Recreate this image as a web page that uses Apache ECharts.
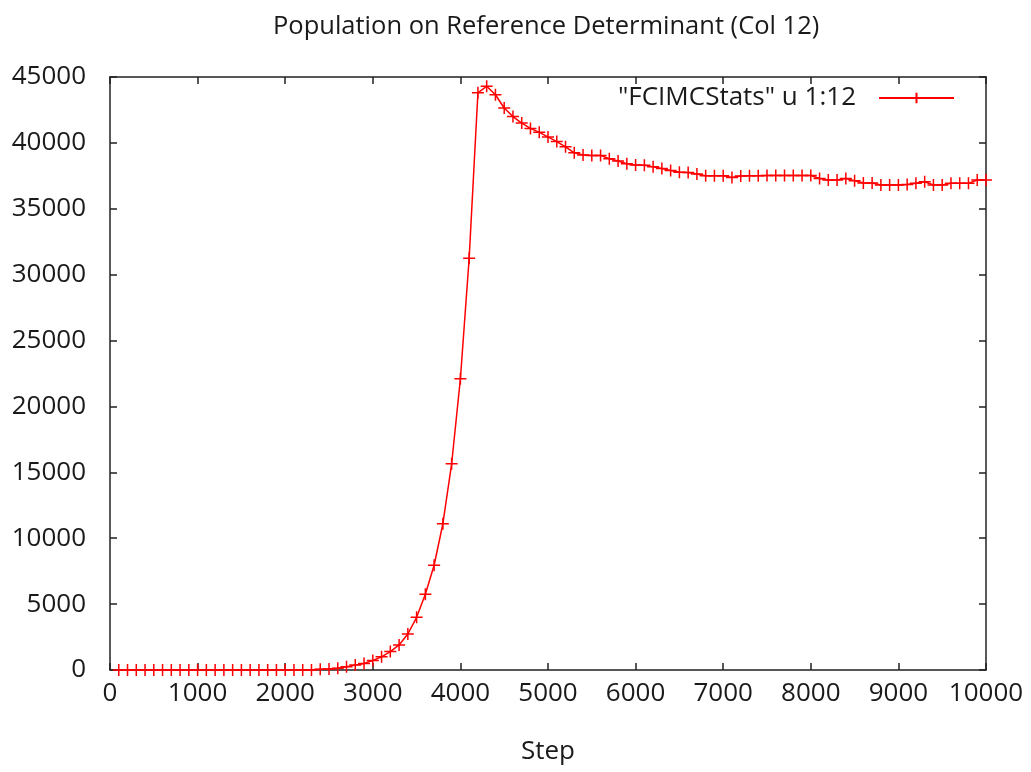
<!DOCTYPE html>
<html>
<head>
<meta charset="utf-8">
<script src="https://cdn.jsdelivr.net/npm/echarts@6/dist/echarts.min.js"></script>
<style>
  html, body {margin: 0; padding: 0; background: #fff;}
  #chart {width: 1031px; height: 772px;}
</style>
</head>
<body>
<div id="chart"></div>
<script>
// x: step numbers, y: population on the reference determinant
const steps = [
  100, 200, 300, 400, 500, 600, 700, 800, 900, 1000,
  1100, 1200, 1300, 1400, 1500, 1600, 1700, 1800, 1900, 2000,
  2100, 2200, 2300, 2400, 2500, 2600, 2700, 2800, 2900, 3000,
  3100, 3200, 3300, 3400, 3500, 3600, 3700, 3800, 3900, 4000,
  4100, 4200, 4300, 4400, 4500, 4600, 4700, 4800, 4900, 5000,
  5100, 5200, 5300, 5400, 5500, 5600, 5700, 5800, 5900, 6000,
  6100, 6200, 6300, 6400, 6500, 6600, 6700, 6800, 6900, 7000,
  7100, 7200, 7300, 7400, 7500, 7600, 7700, 7800, 7900, 8000,
  8100, 8200, 8300, 8400, 8500, 8600, 8700, 8800, 8900, 9000,
  9100, 9200, 9300, 9400, 9500, 9600, 9700, 9800, 9900, 10000
];
const population = [
  0, 0, 0, 0, 0, 0, 0, 0, 0, 0,
  0, 0, 0, 0, 0, 0, 0, 0, 0, 0,
  0, 0, 0, 60, 80, 130, 250, 370, 500, 720,
  1000, 1400, 1900, 2730, 4000, 5750, 7950, 11100, 15650, 22100,
  31250, 43800, 44300, 43650, 42650, 42000, 41500, 41100, 40800, 40450,
  40100, 39700, 39250, 39080, 39050, 39050, 38800, 38620, 38420, 38320,
  38300, 38180, 38050, 37900, 37780, 37760, 37640, 37500, 37500, 37500,
  37380, 37480, 37500, 37500, 37520, 37520, 37520, 37520, 37520, 37520,
  37300, 37180, 37180, 37300, 37130, 36950, 36950, 36800, 36800, 36800,
  36850, 36930, 37050, 36800, 36800, 36930, 36930, 36930, 37180, 37180
];
const seriesName = '"FCIMCStats" u 1:12';
const titleText = 'Population on Reference Determinant (Col 12)';
const xName = 'Step';

const FONT = '"Open Sans", "Noto Sans", sans-serif';
const INK = '#1a1a1a';
const SIZE = 26;
const PLUS = 'path://M0,5L10,5M5,0L5,10';

const chart = echarts.init(document.getElementById('chart'));

// gnuplot style: plain numbers, ticks pointing inward, box around the plot
const axisBase = {
  type: 'value',
  axisLine: {show: true, onZero: false, lineStyle: {color: '#222', width: 1.5}},
  axisTick: {show: true, inside: true, length: 7, lineStyle: {color: '#222', width: 1.5}},
  splitLine: {show: false},
  axisLabel: {color: INK, fontFamily: FONT, fontSize: SIZE, formatter: v => String(v)}
};

chart.setOption({
  animation: false,
  backgroundColor: '#fff',
  title: {
    text: titleText,
    left: 268,
    top: 9,
    textStyle: {color: INK, fontFamily: FONT, fontSize: 25.5, fontWeight: 'normal'}
  },
  legend: {
    data: [seriesName],
    right: 71,
    top: 80,
    align: 'right',
    itemWidth: 75,
    itemHeight: 13,
    textStyle: {color: INK, fontFamily: FONT, fontSize: SIZE, padding: [0, 18, 0, 0]}
  },
  grid: {left: 110, right: 45, top: 77, bottom: 102},
  xAxis: [
    Object.assign({}, axisBase, {
      min: 0, max: 10000, interval: 1000,
      position: 'bottom',
      axisLabel: Object.assign({}, axisBase.axisLabel, {margin: 11}),
      name: xName,
      nameLocation: 'middle',
      nameGap: 69,
      nameTextStyle: {color: INK, fontFamily: FONT, fontSize: SIZE}
    }),
    Object.assign({}, axisBase, {
      min: 0, max: 10000, interval: 1000,
      position: 'top',
      axisLabel: {show: false}
    })
  ],
  yAxis: [
    Object.assign({}, axisBase, {
      min: 0, max: 45000, interval: 5000,
      position: 'left',
      axisLabel: Object.assign({}, axisBase.axisLabel, {margin: 24})
    }),
    Object.assign({}, axisBase, {
      min: 0, max: 45000, interval: 5000,
      position: 'right',
      axisLabel: {show: false}
    })
  ],
  series: [{
    name: seriesName,
    type: 'line',
    data: steps.map((s, i) => [s, population[i]]),
    symbol: PLUS,
    symbolSize: 12,
    showAllSymbol: true,
    lineStyle: {color: '#ff0000', width: 1.5},
    itemStyle: {color: '#ff0000', borderColor: '#ff0000', borderWidth: 1.5}
  }]
});
</script>
</body>
</html>
